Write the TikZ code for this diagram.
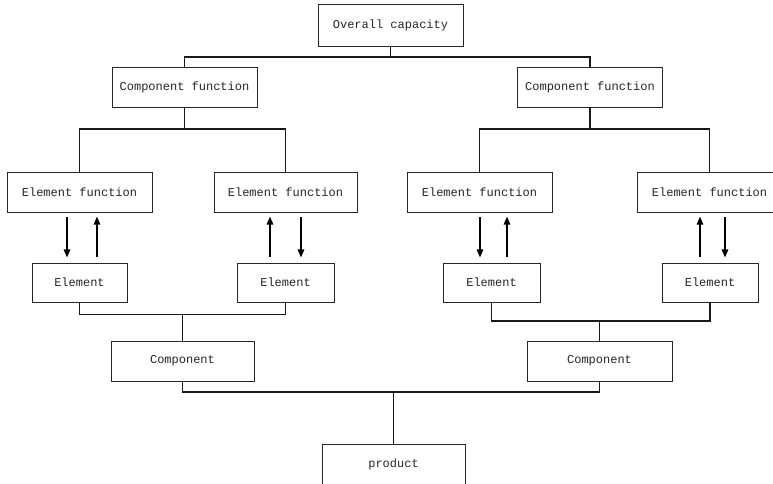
\documentclass[tikz,border=0pt]{standalone}
\usepackage{fontspec}
\setmonofont{Liberation Mono}
\usetikzlibrary{arrows.meta}

\begin{document}
\begin{tikzpicture}[x=1pt, y=-1pt,
  box/.style={draw=black!85, line width=0.9pt, fill=white, inner sep=0pt,
              font=\ttfamily\fontsize{12}{14}\selectfont, text=black!85},
  wide/.style={box, minimum width=145pt, minimum height=40pt},
  small/.style={box, minimum width=96pt, minimum height=39pt},
  link/.style={line width=1.1pt, draw=black!90},
  flow/.style={line width=1.4pt, draw=black,
               -{Triangle[length=8pt,width=6.5pt]}}]
  \useasboundingbox (0,0) rectangle (773,483);
  \clip (0,0) rectangle (773,483);

  % levels of the hierarchy
  \node[wide, minimum height=42pt] (cap) at (390.5,25.5) {Overall capacity};

  \node[wide] (cfL) at (184.5,87) {Component function};
  \node[wide] (cfR) at (590,87)   {Component function};

  \node[wide] (efA) at (79.5,192)  {Element function};
  \node[wide, minimum width=143pt] (efB) at (285.5,192) {Element function};
  \node[wide] (efC) at (479.5,192) {Element function};
  \node[wide] (efD) at (709.5,192) {Element function};

  \node[small, minimum width=95pt] (elA) at (79.5,282.5)  {Element};
  \node[small, minimum width=97pt] (elB) at (285.5,282.5) {Element};
  \node[small, minimum width=97pt] (elC) at (491.5,282.5) {Element};
  \node[small] (elD) at (710,282.5) {Element};

  \node[wide, minimum width=143pt] (coL) at (182.5,361) {Component};
  \node[wide] (coR) at (599.5,361) {Component};

  \node[wide, minimum width=143pt] (prod) at (393.5,464) {product};

  % bus junctions
  \coordinate (b0) at (390.5,57);
  \coordinate (b1) at (184.5,129);
  \coordinate (b2) at (590,129);
  \coordinate (b3) at (182.5,314.5);
  \coordinate (b4) at (599.5,321);
  \coordinate (b5) at (393.5,392);

  % decomposition (top half)
  \draw[link] (cap.south) -- (b0);
  \draw[link] (cfL.north) |- (b0) -| (cfR.north);
  \draw[link] (cfL.south) -- (b1);
  \draw[link] (efA.north) |- (b1) -| (efB.north);
  \draw[link] (cfR.south) -- (b2);
  \draw[link] (efC.north) |- (b2) -| (efD.north);

  % composition (bottom half)
  \draw[link, line width=1.4pt] (elA.south) |- (b3) -| (elB.south);
  \draw[link, line width=1.4pt] (b3) -- (coL.north);
  \draw[link, line width=1.4pt] (elC.south) |- (b4) -| (elD.south);
  \draw[link, line width=1.4pt] (b4) -- (coR.north);
  \draw[link, line width=1.4pt] (coL.south) |- (b5) -| (coR.south);
  \draw[link, line width=1.4pt] (b5) -- (prod.north);

  % function <-> element arrows
  \draw[flow] ([xshift=-12.5pt,yshift=-5pt]efA.south) -- ++(0,40);
  \draw[flow] ([xshift=17.5pt,yshift=6pt]elA.north) -- ++(0,-40);

  \draw[flow] ([xshift=-15.5pt,yshift=6pt]elB.north) -- ++(0,-40);
  \draw[flow] ([xshift=15.5pt,yshift=-5pt]efB.south) -- ++(0,40);

  \draw[flow] ([xshift=0.5pt,yshift=-5pt]efC.south) -- ++(0,40);
  \draw[flow] ([xshift=15.5pt,yshift=6pt]elC.north) -- ++(0,-40);

  \draw[flow] ([xshift=-10pt,yshift=6pt]elD.north) -- ++(0,-40);
  \draw[flow] ([xshift=15.5pt,yshift=-5pt]efD.south) -- ++(0,40);
\end{tikzpicture}
\end{document}
